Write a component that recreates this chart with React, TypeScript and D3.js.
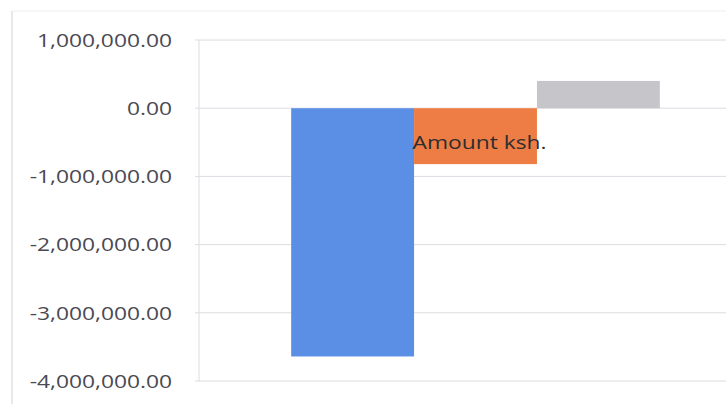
import React from "react";
import * as d3 from "d3";

const categories = ["Amount ksh."];
const seriesNames = ["Series A", "Series B", "Series C"];
const seriesValues = [-3640000, -820000, 400000];
const seriesColors = ["#5b8fe6", "#ed7d44", "#c6c5ca"];
const yTicks = [1000000, 0, -1000000, -2000000, -3000000, -4000000];

const W = 726;
const H = 404;

export default function App() {
  const plotLeft = 199;
  const plotRight = 752;
  const y = d3.scaleLinear().domain([-4000000, 1000000]).range([381, 40]);
  const xCat = d3.scaleBand().domain(categories).range([plotLeft, plotRight]).paddingInner(0).paddingOuter(0);
  const bandW = xCat.bandwidth();
  // Excel gap width 150%
  const barW = bandW / (seriesNames.length + 1.5);
  const gap = bandW - barW * seriesNames.length;
  const xSeries = d3
    .scaleBand()
    .domain(seriesNames)
    .range([gap / 2, gap / 2 + barW * seriesNames.length])
    .padding(0);
  const fmt = (v: number) => d3.format(",.2f")(v).replace("\u2212", "-");
  const font = "'Open Sans', 'Noto Sans', sans-serif";
  const sx = 1.2;

  return (
    <svg
      width={W}
      height={H}
      style={{ position: "absolute", left: 0, top: 0, background: "#fff" }}
    >
      <line x1={12} y1={11} x2={12} y2={H} stroke="#d9d9de" strokeWidth={1.2} />
      <line x1={12} y1={11} x2={W} y2={11} stroke="#eeeef0" strokeWidth={1} />
      {yTicks.map((t) => (
        <g key={t}>
          <line x1={plotLeft - 4} x2={W} y1={y(t)} y2={y(t)} stroke="#dcdce2" strokeWidth={1} />
          <g transform={`translate(172,${y(t)}) scale(${sx},1)`}>
            <text
              x={0}
              y={0}
              dy="0.36em"
              textAnchor="end"
              fontFamily={font}
              fontSize={19}
              fill="#4a4a52"
            >
              {fmt(t)}
            </text>
          </g>
        </g>
      ))}
      <line x1={plotLeft} x2={plotLeft} y1={y(1000000)} y2={y(-4000000)} stroke="#dcdce2" strokeWidth={1} />
      {categories.map((c) =>
        seriesNames.map((s, i) => {
          const v = seriesValues[i];
          const x0 = (xCat(c) as number) + (xSeries(s) as number);
          return (
            <rect
              key={s}
              x={x0}
              width={barW}
              y={Math.min(y(v), y(0))}
              height={Math.abs(y(v) - y(0))}
              fill={seriesColors[i]}
            />
          );
        })
      )}
      {categories.map((c) => (
        <g key={c} transform={`translate(${(xCat(c) as number) + bandW / 2 + 4},${y(0) + 34}) scale(${sx},1)`}>
          <text
            x={0}
            y={0}
            dy="0.36em"
            textAnchor="middle"
            fontFamily={font}
            fontSize={19}
            fill="#2e2e2e"
          >
            {c}
          </text>
        </g>
      ))}
    </svg>
  );
}
